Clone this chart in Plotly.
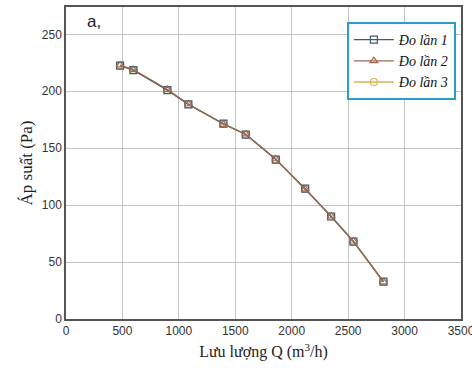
import plotly.graph_objects as go

# Flow rate Q (m3/h) and pressure (Pa) for three measurement runs
q_run1 = [479, 597, 898, 1084, 1395, 1593, 1859, 2119, 2349, 2547, 2813]
p_run1 = [222.5, 218.5, 201.0, 188.5, 171.5, 162.0, 140.0, 114.5, 90.0, 68.0, 32.8]
q_run2 = [479, 597, 898, 1084, 1395, 1593, 1859, 2119, 2349, 2547, 2813]
p_run2 = [223.0, 219.0, 201.5, 188.8, 171.0, 162.3, 140.5, 114.0, 90.3, 68.3, 32.5]
q_run3 = [479, 597, 898, 1084, 1395, 1593, 1859, 2119, 2349, 2547, 2813]
p_run3 = [222.8, 218.8, 201.2, 188.6, 171.3, 162.1, 140.2, 114.3, 90.1, 68.1, 32.7]

series_names = ["Đo lần 1", "Đo lần 2", "Đo lần 3"]
x_ticks = [0, 500, 1000, 1500, 2000, 2500, 3000, 3500]
y_ticks = [0, 50, 100, 150, 200, 250]

colors = ["#3f5878", "#9c6a52", "#d8b24c"]
symbols = ["square-open", "triangle-up-open", "circle-open"]
ranks = [1, 2, 3]
draw_order = [2, 0, 1]  # gold first, brown on top

xs = [q_run1, q_run2, q_run3]
ys = [p_run1, p_run2, p_run3]

fig = go.Figure()
for i in draw_order:
    c = colors[i]
    fig.add_trace(go.Scatter(
        x=xs[i], y=ys[i], name=series_names[i], mode="lines+markers",
        legendrank=ranks[i],
        line=dict(color=c, width=1.3),
        marker=dict(symbol=symbols[i], size=7, color=c, line=dict(width=1.2, color=c)),
    ))

axis_common = dict(
    showgrid=True, gridcolor="#c4c4c4", gridwidth=1,
    showline=True, linecolor="#555555", linewidth=1.5, mirror=True,
    zeroline=False, ticks="", ticklabeloverflow="allow", automargin=False,
    tickfont=dict(family="Liberation Sans, Arial", size=12, color="#333333"),
)

fig.update_layout(
    width=472, height=370,
    margin=dict(l=66, r=11, t=7, b=51),
    paper_bgcolor="white", plot_bgcolor="white",
    xaxis=dict(range=[0, 3500], tickvals=x_ticks,
               title=dict(text="Lưu lượng Q (m<sup>3</sup>/h)",
                          font=dict(family="Liberation Serif, Times New Roman", size=16, color="#222222"),
                          standoff=9),
               **axis_common),
    yaxis=dict(range=[0, 274], tickvals=y_ticks,
               title=dict(text="Áp suất (Pa)",
                          font=dict(family="Liberation Serif, Times New Roman", size=17, color="#222222"),
                          standoff=5),
               **axis_common),
    legend=dict(
        x=0.987, y=0.952, xanchor="right", yanchor="top",
        bgcolor="white", bordercolor="#2a9ccc", borderwidth=2,
        font=dict(family="Liberation Serif, Times New Roman", size=14, color="#111111", style="italic"),
        tracegroupgap=0, itemwidth=40,
    ),
    showlegend=True,
    annotations=[dict(text="a,", x=0.07, y=0.99, xref="paper", yref="paper",
                      xanchor="center", yanchor="top", showarrow=False,
                      font=dict(family="Liberation Sans, Arial", size=17, color="#222222"))],
)

fig.write_html("out.html")
